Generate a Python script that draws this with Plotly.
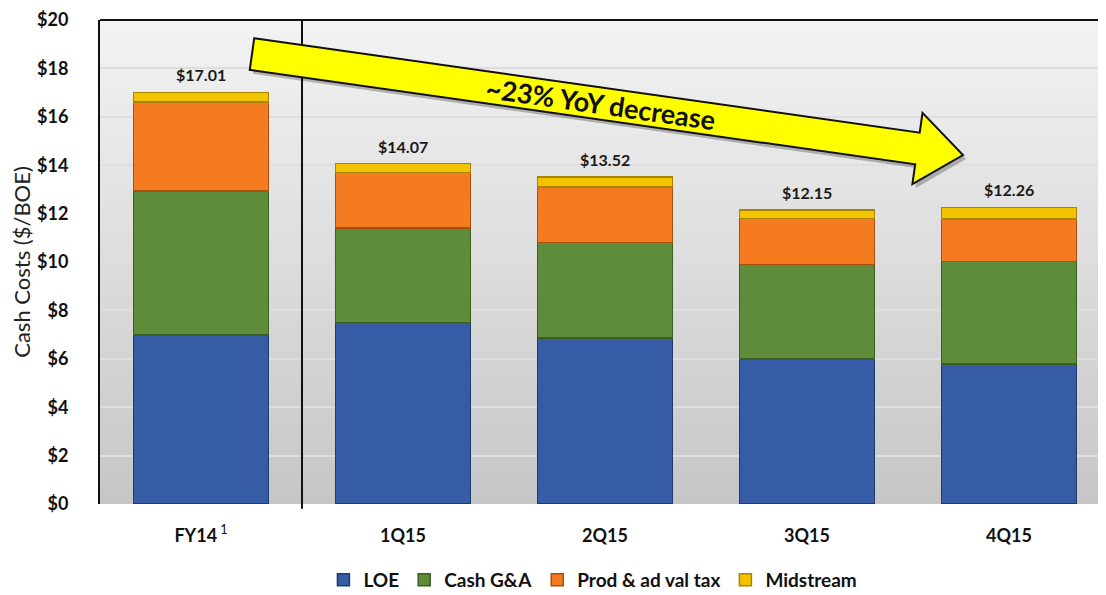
import math
import plotly.graph_objects as go

# ---------------- data ----------------
categories = ["FY14", "1Q15", "2Q15", "3Q15", "4Q15"]
tick_labels = ["<b>FY14</b><sup> 1</sup>", "<b>1Q15</b>", "<b>2Q15</b>", "<b>3Q15</b>", "<b>4Q15</b>"]
loe = [6.98, 7.50, 6.85, 6.00, 5.78]
cash_ga = [5.95, 3.90, 3.95, 3.90, 4.25]
prod_tax = [3.68, 2.30, 2.30, 1.90, 1.75]
midstream = [0.40, 0.37, 0.42, 0.35, 0.48]
series_names = ["LOE", "Cash G&A", "Prod & ad val tax", "Midstream"]
arrow_text = "~23% YoY decrease"
y_title = "Cash Costs ($/BOE)"

# ---------------- styles ----------------
FONT = "Lato"
fills = ["#355CA4", "#5E8C3B", "#F47B20", "#F3C300"]
edges = ["#1F3A6E", "#3B5E22", "#A9500F", "#A98400"]

# page has an 8px body margin -> figure is a bit smaller than the window
OFF = 8
W, H = 1106 - OFF, 595 - OFF
PLOT_L, PLOT_T, PLOT_B = 100, 20, 504          # page pixels
ML, MR, MT = PLOT_L - OFF, 0, PLOT_T - OFF
MB = H - (PLOT_B - OFF)
PW, PH = W - ML - MR, PLOT_B - PLOT_T


def px2paper(px, py):
    return (px - PLOT_L) / PW, (PLOT_B - py) / PH


fig = go.Figure()
for name, vals, fc, ec in zip(series_names, [loe, cash_ga, prod_tax, midstream], fills, edges):
    fig.add_trace(go.Bar(
        x=categories, y=vals, name=name,
        marker=dict(color=fc, line=dict(color=ec, width=1.5)),
        hoverinfo="x+y+name",
    ))

totals = [a + b + c + d for a, b, c, d in zip(loe, cash_ga, prod_tax, midstream)]
for cat, tot in zip(categories, totals):
    fig.add_annotation(x=cat, y=tot, text=f"<b>${tot:.2f}</b>", showarrow=False,
                       yanchor="bottom", yshift=6,
                       font=dict(family=FONT, size=16, color="#1a1a1a"))

shapes = []
# gradient background of plot area
n = 60
top_c, bot_c = (243, 243, 243), (198, 198, 198)
for i in range(n):
    t = (i + 0.5) / n
    c = tuple(round(top_c[k] + (bot_c[k] - top_c[k]) * t) for k in range(3))
    shapes.append(dict(type="rect", xref="paper", yref="paper", x0=0, x1=1,
                       y0=1 - (i + 1) / n, y1=1 - i / n + 0.002,
                       fillcolor=f"rgb{c}", line=dict(width=0), layer="below"))
# top frame line
shapes.append(dict(type="line", xref="paper", yref="paper", x0=0, x1=1, y0=1, y1=1,
                   line=dict(color="#111111", width=2)))
# separator between FY14 and quarters
shapes.append(dict(type="line", xref="x", yref="paper", x0=0.5, x1=0.5, y0=-0.01, y1=1,
                   line=dict(color="#111111", width=2)))

# arrow (page pixel geometry -> paper)
sx, sy = 252, 54
ex, ey = 963, 155
ang = math.atan2(ey - sy, ex - sx)
ux, uy = math.cos(ang), math.sin(ang)
nx, ny = -uy, ux
hw, hhw, hl = 16, 36, 46
bx, by = ex - ux * hl, ey - uy * hl
pts = [
    (sx - nx * hw, sy - ny * hw),
    (bx - nx * hw, by - ny * hw),
    (bx - nx * hhw, by - ny * hhw),
    (ex, ey),
    (bx + nx * hhw, by + ny * hhw),
    (bx + nx * hw, by + ny * hw),
    (sx + nx * hw, sy + ny * hw),
]
ppts = [px2paper(x, y) for x, y in pts]
path = "M " + " L ".join(f"{x:.5f},{y:.5f}" for x, y in ppts) + " Z"
spts = [px2paper(x + 3, y + 4) for x, y in pts]
spath = "M " + " L ".join(f"{x:.5f},{y:.5f}" for x, y in spts) + " Z"
shapes.append(dict(type="path", xref="paper", yref="paper", path=spath,
                   fillcolor="rgba(0,0,0,0.25)", line=dict(width=0), layer="above"))
shapes.append(dict(type="path", xref="paper", yref="paper", path=path,
                   fillcolor="#FFFF00", line=dict(color="#111111", width=2), layer="above"))

tx, ty = px2paper(600, 104)
fig.add_annotation(xref="paper", yref="paper", x=tx, y=ty, text=f"<b>{arrow_text}</b>",
                   showarrow=False, textangle=math.degrees(ang),
                   xanchor="center", yanchor="middle",
                   font=dict(family=FONT, size=27, color="#111111"))

fig.update_layout(
    width=W, height=H,
    margin=dict(l=ML, r=MR, t=MT, b=MB, pad=0, autoexpand=False),
    barmode="stack", bargap=0.33,
    paper_bgcolor="white", plot_bgcolor="#DDDDDD",
    font=dict(family=FONT, color="#222222"),
    shapes=shapes,
    showlegend=True,
    legend=dict(orientation="h", x=0.49, xanchor="center", y=-0.157, yanchor="middle",
                font=dict(family=FONT, size=19, color="#111111", weight="bold"),
                itemwidth=30, traceorder="normal", bgcolor="rgba(0,0,0,0)"),
    xaxis=dict(type="category", range=[-0.5, 4.48], tickvals=categories, ticktext=tick_labels,
               tickfont=dict(family=FONT, size=18, color="#111111"), automargin=False,
               showgrid=False, showline=False, ticks="", ticklabelstandoff=19, fixedrange=True),
    yaxis=dict(range=[0, 20], dtick=2, tickprefix="$", showgrid=True, gridcolor="#DEDEDE",
               gridwidth=1.5, zeroline=False, showline=True, linecolor="#111111", linewidth=2,
               tickfont=dict(family=FONT, size=18, color="#111111", weight="bold"),
               ticks="", ticklabelstandoff=26, automargin=False,
               title=dict(text=y_title, standoff=0, font=dict(family=FONT, size=22, color="#222222")),
               fixedrange=True),
)

fig.write_html("out.html")
